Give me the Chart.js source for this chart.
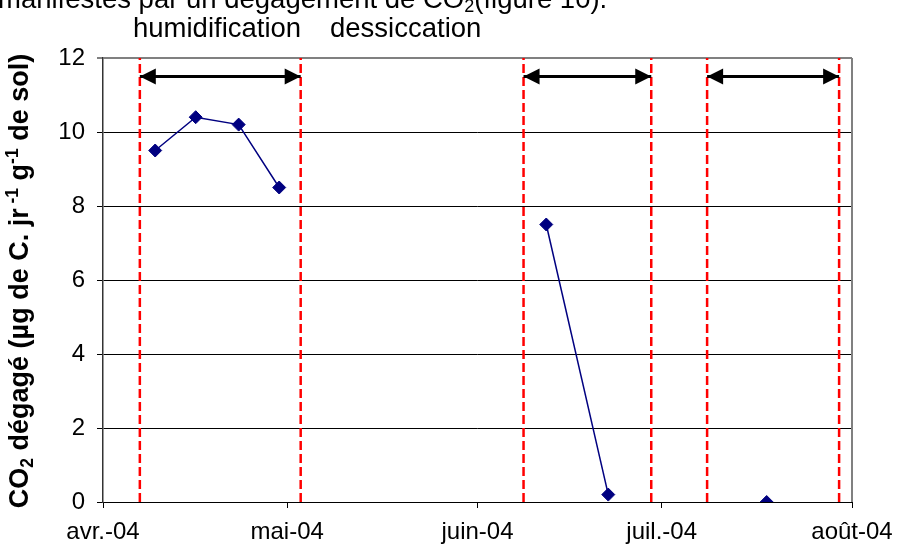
<!DOCTYPE html>
<html>
<head>
<meta charset="utf-8">
<script src="https://cdn.jsdelivr.net/npm/chart.js@4.4.1/dist/chart.umd.min.js"></script>
<style>
  body { margin: 0; background: #fff; }
  #wrap { position: relative; width: 897px; height: 550px; overflow: hidden; font-family: "Liberation Sans", Arial, sans-serif; }
  #chart { position: absolute; left: 0; top: 0; }
  .txt { position: absolute; font-size: 27.5px; color: #000; white-space: nowrap; line-height: 1; }
  .txt sub { font-size: 18px; vertical-align: -4px; line-height: 0; }
</style>
</head>
<body>
<div id="wrap">
  <canvas id="chart" width="897" height="550"></canvas>
  <div class="txt" style="left:-2px; top:-15px;">manifestés par un dégagement de CO<sub>2</sub>(figure 10).</div>
  <div class="txt" style="left:133px; top:14px;">humidification</div>
  <div class="txt" style="left:330px; top:14px;">dessiccation</div>
</div>
<script>
// days counted from 1 april 2004
var monthTicks = [0, 30, 61, 91, 122];
var monthLabels = ['avr.-04', 'mai-04', 'juin-04', 'juil.-04', 'août-04'];

var sampleDays = [8.5, 15.1, 22.1, 28.7, 72.2, 82.3, 108.1];
var co2Values = [9.5, 10.4, 10.2, 8.5, 7.5, 0.2, 0];
var campaign = [1, 1, 1, 1, 2, 2, 3];

// humidification / dessiccation periods (start day, end day)
var periodStart = [6.0, 68.5, 98.4];
var periodEnd = [32.2, 89.3, 119.9];
var arrowLevel = 11.5;

var navy = '#000080';

var datasets = [];

// red dashed limits
periodStart.concat(periodEnd).forEach(function(d) {
    datasets.push({
        data: [{x: d, y: 0}, {x: d, y: 12}],
        borderColor: '#ff0000',
        borderWidth: 2.5,
        borderDash: [9, 4],
        pointRadius: 0,
        order: 3
    });
});

// double arrows
for (var i = 0; i < periodStart.length; i++) {
    datasets.push({
        data: [{x: periodStart[i], y: arrowLevel}, {x: periodEnd[i], y: arrowLevel}],
        borderColor: '#000',
        borderWidth: 3,
        pointRadius: 0,
        order: 2
    });
}

// CO2 measurements
datasets.push({
    data: sampleDays.map(function(d, i) { return {x: d, y: co2Values[i]}; }),
    borderColor: navy,
    backgroundColor: navy,
    borderWidth: 1.5,
    pointStyle: 'rectRot',
    pointRadius: 6.5,
    pointBorderWidth: 1,
    order: 1,
    segment: {
        borderColor: function(ctx) {
            return campaign[ctx.p0DataIndex] === campaign[ctx.p1DataIndex] ? navy : 'rgba(0,0,0,0)';
        }
    }
});

var arrowHeads = {
    id: 'arrowHeads',
    afterDatasetsDraw: function(chart) {
        var ctx = chart.ctx;
        var xs = chart.scales.x, ys = chart.scales.y;
        ctx.save();
        ctx.fillStyle = '#000';
        for (var i = 0; i < periodStart.length; i++) {
            var y = ys.getPixelForValue(arrowLevel);
            var a = xs.getPixelForValue(periodStart[i]);
            var b = xs.getPixelForValue(periodEnd[i]);
            ctx.beginPath();
            ctx.moveTo(a, y); ctx.lineTo(a + 16, y - 8); ctx.lineTo(a + 16, y + 8); ctx.closePath();
            ctx.fill();
            ctx.beginPath();
            ctx.moveTo(b, y); ctx.lineTo(b - 16, y - 8); ctx.lineTo(b - 16, y + 8); ctx.closePath();
            ctx.fill();
        }
        ctx.restore();
    }
};

var frame = {
    id: 'frame',
    beforeDatasetsDraw: function(chart) {
        var ctx = chart.ctx, a = chart.chartArea;
        ctx.save();
        ctx.strokeStyle = '#808080';
        ctx.lineWidth = 2;
        ctx.beginPath();
        ctx.moveTo(a.right, a.top);
        ctx.lineTo(a.right, a.bottom);
        ctx.stroke();
        ctx.restore();
    }
};

var yTitle = {
    id: 'yTitle',
    afterDraw: function(chart) {
        var ctx = chart.ctx, a = chart.chartArea;
        var parts = [['CO', 0], ['2', 1], [' dégagé (µg de C. jr', 0], [' -1', -1], [' g', 0], ['-1', -1], [' de sol)', 0]];
        var big = 'bold 27px "Liberation Sans", Arial, sans-serif';
        var small = 'bold 17.5px "Liberation Sans", Arial, sans-serif';
        ctx.save();
        ctx.translate(28, (a.top + a.bottom) / 2 + 1);
        ctx.rotate(-Math.PI / 2);
        ctx.fillStyle = '#000';
        ctx.textBaseline = 'alphabetic';
        var total = 0;
        parts.forEach(function(p) {
            ctx.font = p[1] ? small : big;
            total += ctx.measureText(p[0]).width;
        });
        var x = -total / 2;
        parts.forEach(function(p) {
            ctx.font = p[1] ? small : big;
            var dy = p[1] === 1 ? 5 : (p[1] === -1 ? -10 : 0);
            ctx.fillText(p[0], x, dy);
            x += ctx.measureText(p[0]).width;
        });
        ctx.restore();
    }
};

var tickFont = {family: '"Liberation Sans", Arial, sans-serif', size: 24};

new Chart(document.getElementById('chart'), {
    type: 'line',
    data: {datasets: datasets},
    options: {
        responsive: false,
        animation: false,
        layout: {padding: {top: 58, right: 45, left: 0, bottom: 0}},
        plugins: {legend: {display: false}, tooltip: {enabled: false}},
        scales: {
            x: {
                type: 'linear',
                min: 0,
                max: 122,
                afterBuildTicks: function(scale) {
                    scale.ticks = monthTicks.map(function(v) { return {value: v}; });
                },
                afterFit: function(scale) {
                    scale.height = 48;
                    scale.paddingLeft = 0;
                    scale.paddingRight = 0;
                },
                ticks: {
                    autoSkip: false,
                    maxRotation: 0,
                    padding: 10,
                    color: '#000',
                    font: tickFont,
                    callback: function(v) { return monthLabels[monthTicks.indexOf(v)]; }
                },
                grid: {drawOnChartArea: false, tickLength: 6, color: '#000'},
                border: {color: '#000', width: 1}
            },
            y: {
                min: 0,
                max: 12,
                afterFit: function(scale) {
                    scale.width = 103;
                    scale.paddingTop = 0;
                    scale.paddingBottom = 0;
                },
                ticks: {stepSize: 2, padding: 12, color: '#000', font: tickFont},
                grid: {
                    tickLength: 6,
                    color: function(c) { return c.tick && c.tick.value === 12 ? '#808080' : '#000'; },
                    lineWidth: function(c) { return c.tick && c.tick.value === 12 ? 2 : 1; }
                },
                border: {color: '#333', width: 1.5}
            }
        }
    },
    plugins: [frame, arrowHeads, yTitle]
});
</script>
</body>
</html>
